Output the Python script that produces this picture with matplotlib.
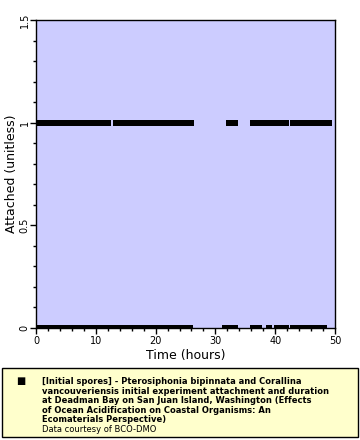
import matplotlib
matplotlib.use("Agg")
import matplotlib.pyplot as plt
from matplotlib.patches import Rectangle
from matplotlib.ticker import MultipleLocator

# runs of attached observations (start, end in hours)
att1_start = [0.0, 12.9, 31.8, 35.8, 42.5]
att1_end = [12.5, 26.4, 33.8, 42.3, 49.5]
# runs of non-attached observations
att0_start = [0.0, 31.1, 35.8, 38.5, 39.8, 42.5]
att0_end = [26.2, 33.8, 37.8, 39.5, 42.3, 48.7]

legend_lines = [
    "[Initial spores] - Pterosiphonia bipinnata and Corallina",
    "vancouveriensis initial experiment attachment and duration",
    "at Deadman Bay on San Juan Island, Washington (Effects",
    "of Ocean Acidification on Coastal Organisms: An",
    "Ecomaterials Perspective)",
]
credit = "Data courtesy of BCO-DMO"

fig = plt.figure(figsize=(3.6, 4.4), dpi=100)
ax = fig.add_axes([36/360, 1 - 328/440, 299/360, 308/440])
ax.set_facecolor("#ccccff")

lw = 6 * 72 / 100
ax.hlines([1]*len(att1_start), att1_start, att1_end, colors="black", linewidth=lw)
ax.hlines([0]*len(att0_start), att0_start, att0_end, colors="black", linewidth=lw)

ax.set_xlim(0, 50)
ax.set_ylim(0, 1.5)
ax.xaxis.set_major_locator(MultipleLocator(10))
ax.xaxis.set_minor_locator(MultipleLocator(2))
ax.yaxis.set_minor_locator(MultipleLocator(0.1))
ax.set_yticks([0, 0.5, 1, 1.5])
ax.set_yticklabels(["0", "0.5", "1", "1.5"], rotation=90, va="center")
ax.tick_params(which="major", length=4, width=1, labelsize=7)
ax.tick_params(axis="y", which="major", pad=0.5)
ax.tick_params(axis="x", which="major", pad=2)
ax.tick_params(which="minor", length=2, width=1)
for s in ax.spines.values():
    s.set_linewidth(1)
ax.set_xlabel("Time (hours)", fontsize=9, labelpad=2)
ax.set_ylabel("Attached (unitless)", fontsize=9, labelpad=1)

# legend box
fig.patches.append(Rectangle((2/360, 3/440), 356/360, 69/440, transform=fig.transFigure,
                             facecolor="#ffffcc", edgecolor="black", linewidth=1))
fig.text(21/360, 1 - 381/440, "\u25a0", fontsize=7, ha="center", va="center")
y = 384
for line in legend_lines:
    fig.text(42/360, 1 - y/440, line, fontsize=6, fontweight="bold", va="baseline")
    y += 9.6
fig.text(42/360, 1 - y/440, credit, fontsize=6, va="baseline")

fig.savefig("out.png", dpi=100)
